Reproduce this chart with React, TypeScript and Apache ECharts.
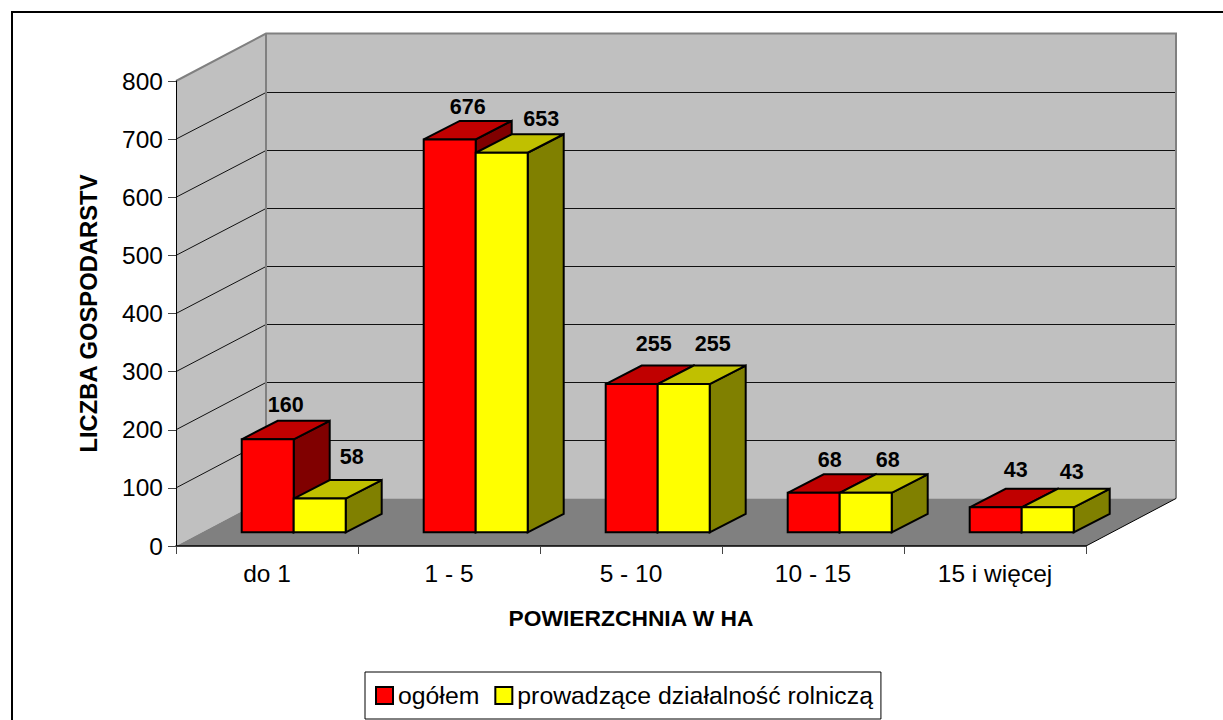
import React, { useEffect, useRef } from "react";
import * as echarts from "echarts";

const categories = ["do 1", "1 - 5", "5 - 10", "10 - 15", "15 i więcej"];
const totalFarms = [160, 676, 255, 68, 43];
const farmingActivity = [58, 653, 255, 68, 43];
const gridValues = [100, 200, 300, 400, 500, 600, 700];

// Oblique projection of the chart box, in pixels.
const BOX_DX = 90;
const BOX_DY = 47.5;
const BAR_FRONT_DX = 26.7;
const BAR_FRONT_DY = 13.7;
const BAR_DX = 36;
const BAR_DY = 18.5;
const BAR_BAND_SHARE = 52 / 182;

// Hand-placed label offsets from each column's top-back edge.
const totalLabelNudge = [[0, -16], [0, -14], [4, -22], [-2, -14], [2, -19]];
const activityLabelNudge = [[14, -23], [21.5, -15], [11, -22], [4, -14], [6, -17]];

const FONT = "'Liberation Sans', Arial, sans-serif";

function renderBox(_params: any, api: any) {
  const band = api.size([1, 0])[0];
  const [x0Center, y0] = api.coord([0, 0]);
  const [, yTop] = api.coord([0, 800]);
  const left = x0Center - band / 2;
  const right = left + band * categories.length;
  const wall = "#C0C0C0";
  const edge = "#808080";
  const children: any[] = [
    {
      type: "polygon",
      shape: { points: [[left, y0], [left + BOX_DX, y0 - BOX_DY], [left + BOX_DX, yTop - BOX_DY], [left, yTop]] },
      style: { fill: wall },
    },
    {
      type: "polygon",
      shape: { points: [[left + BOX_DX, y0 - BOX_DY], [right + BOX_DX, y0 - BOX_DY], [right + BOX_DX, yTop - BOX_DY], [left + BOX_DX, yTop - BOX_DY]] },
      style: { fill: wall },
    },
    {
      type: "polygon",
      shape: { points: [[left, y0], [right, y0], [right + BOX_DX, y0 - BOX_DY], [left + BOX_DX, y0 - BOX_DY]] },
      style: { fill: edge },
    },
  ];
  for (const v of gridValues) {
    const y = api.coord([0, v])[1];
    const yBack = Math.round(y - BOX_DY) + 0.5;
    children.push({
      type: "polyline",
      shape: { points: [[left, y], [left + BOX_DX, yBack], [right + BOX_DX, yBack]] },
      style: { fill: "none", stroke: "#111", lineWidth: 1 },
    });
  }
  children.push(
    {
      type: "polyline",
      shape: { points: [[left, yTop], [left + BOX_DX, yTop - BOX_DY], [right + BOX_DX, yTop - BOX_DY], [right + BOX_DX, y0 - BOX_DY]] },
      style: { fill: "none", stroke: edge, lineWidth: 2 },
    },
    {
      type: "line",
      shape: { x1: left + BOX_DX, y1: yTop - BOX_DY, x2: left + BOX_DX, y2: y0 - BOX_DY },
      style: { stroke: edge, lineWidth: 2 },
    },
    {
      type: "line",
      shape: { x1: right, y1: y0, x2: right + BOX_DX, y2: y0 - BOX_DY },
      style: { stroke: "#000", lineWidth: 1 },
    }
  );
  return { type: "group", children };
}

function columnRenderer(slot: number, front: string, top: string, side: string, nudges: number[][]) {
  return (params: any, api: any) => {
    const band = api.size([1, 0])[0];
    const w = band * BAR_BAND_SHARE;
    const [cx, yValue] = api.coord([api.value(0), api.value(1)]);
    const [, yZero] = api.coord([api.value(0), 0]);
    const x1 = cx + BAR_FRONT_DX - w + slot * w;
    const x2 = x1 + w;
    const yT = yValue - BAR_FRONT_DY;
    const yB = yZero - BAR_FRONT_DY;
    const stroke = { stroke: "#000", lineWidth: 2, lineJoin: "miter" };
    const nudge = nudges[params.dataIndex];
    return {
      type: "group",
      children: [
        {
          type: "polygon",
          shape: { points: [[x2, yB], [x2 + BAR_DX, yB - BAR_DY], [x2 + BAR_DX, yT - BAR_DY], [x2, yT]] },
          style: { fill: side, ...stroke },
        },
        {
          type: "polygon",
          shape: { points: [[x1, yT], [x2, yT], [x2 + BAR_DX, yT - BAR_DY], [x1 + BAR_DX, yT - BAR_DY]] },
          style: { fill: top, ...stroke },
        },
        {
          type: "rect",
          shape: { x: x1, y: yT, width: w, height: yB - yT },
          style: { fill: front, ...stroke },
        },
        {
          type: "text",
          x: (x1 + x2) / 2 + BAR_DX / 2 + nudge[0],
          y: yT - BAR_DY + nudge[1],
          style: {
            text: String(api.value(1)),
            fill: "#000",
            font: `bold 21.5px ${FONT}`,
            textAlign: "center",
            textVerticalAlign: "middle",
          },
        },
      ],
    };
  };
}

export default function App() {
  const ref = useRef<HTMLDivElement>(null);

  useEffect(() => {
    document.body.style.margin = "0";
    const chart = echarts.init(ref.current!, undefined, { renderer: "svg" });
    chart.setOption({
      animation: false,
      backgroundColor: "#fff",
      textStyle: { fontFamily: FONT },
      grid: { left: 176, top: 81, width: 910, height: 465, containLabel: false },
      xAxis: {
        type: "category",
        data: categories,
        z: 3,
        boundaryGap: true,
        name: "POWIERZCHNIA W HA",
        nameLocation: "middle",
        nameGap: 60,
        nameTextStyle: { fontFamily: FONT, fontSize: 22.8, fontWeight: "bold", color: "#000" },
        axisLine: { lineStyle: { color: "#000", width: 1.5 } },
        axisTick: { show: true, alignWithLabel: false, length: 8, lineStyle: { color: "#444", width: 1 } },
        axisLabel: { fontFamily: FONT, fontSize: 24.5, color: "#000", margin: 15, interval: 0 },
        splitLine: { show: false },
      },
      yAxis: {
        type: "value",
        min: 0,
        max: 800,
        interval: 100,
        z: 3,
        name: "LICZBA GOSPODARSTV",
        nameLocation: "middle",
        nameGap: 76,
        nameTextStyle: { fontFamily: FONT, fontSize: 23.8, fontWeight: "bold", color: "#000" },
        axisLine: { show: true, lineStyle: { color: "#000", width: 1 } },
        axisTick: { show: true, length: 8, lineStyle: { color: "#444", width: 1 } },
        axisLabel: { fontFamily: FONT, fontSize: 24.5, color: "#000", margin: 13 },
        splitLine: { show: false },
      },
      legend: {
        left: 365,
        top: 672,
        padding: [11, 8, 11, 10],
        orient: "horizontal",
        itemWidth: 17,
        itemHeight: 17,
        itemGap: 15,
        selectedMode: false,
        backgroundColor: "#fff",
        borderColor: "#000",
        borderWidth: 1,
        borderRadius: 0,
        icon: "rect",
        textStyle: { fontFamily: FONT, fontSize: 24.8, color: "#000" },
        itemStyle: { borderColor: "#000", borderWidth: 2 },
        data: ["ogółem", "prowadzące działalność rolniczą"],
      },
      graphic: [
        {
          type: "polyline",
          silent: true,
          shape: { points: [[12, 730], [12, 12], [1230, 12]] },
          style: { fill: "none", stroke: "#000", lineWidth: 2 },
        },
      ],
      series: [
        {
          type: "custom",
          name: "box",
          z: 1,
          silent: true,
          renderItem: renderBox,
          data: [[0, 0]],
          encode: { x: 0, y: 1 },
        },
        {
          type: "custom",
          name: "ogółem",
          z: 4,
          silent: true,
          itemStyle: { color: "#FF0000" },
          renderItem: columnRenderer(0, "#FF0000", "#C00000", "#800000", totalLabelNudge),
          data: totalFarms.map((v, i) => [i, v]),
          encode: { x: 0, y: 1 },
        },
        {
          type: "custom",
          name: "prowadzące działalność rolniczą",
          z: 4,
          silent: true,
          itemStyle: { color: "#FFFF00" },
          renderItem: columnRenderer(1, "#FFFF00", "#C0C000", "#808000", activityLabelNudge),
          data: farmingActivity.map((v, i) => [i, v]),
          encode: { x: 0, y: 1 },
        },
      ],
    });
    return () => chart.dispose();
  }, []);

  return <div ref={ref} style={{ position: "absolute", left: 0, top: 0, width: 1223, height: 720, overflow: "hidden" }} />;
}
